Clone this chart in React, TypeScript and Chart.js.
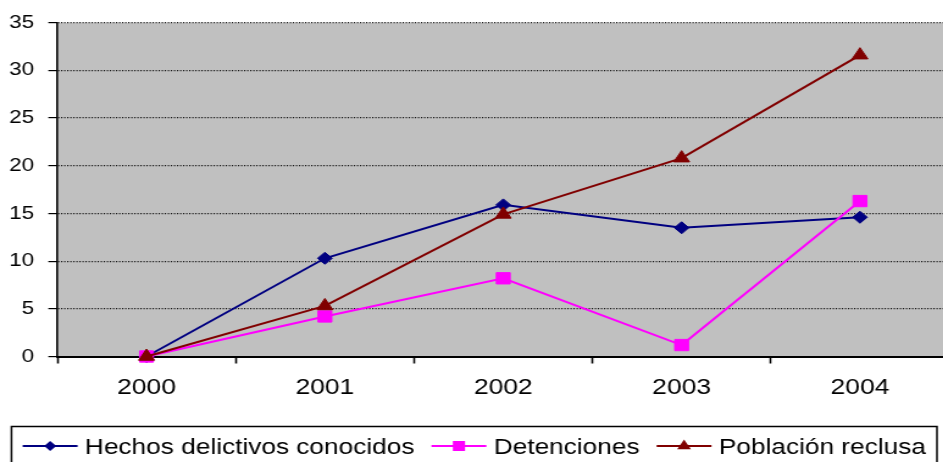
import React, { useEffect, useRef } from 'react';
import { Chart, registerables } from 'chart.js';

Chart.register(...registerables);

const years = ['2000', '2001', '2002', '2003', '2004'];
const hechos = [0, 10.3, 15.9, 13.5, 14.6];
const detenciones = [0, 4.2, 8.2, 1.2, 16.3];
const poblacion = [0, 5.3, 14.9, 20.8, 31.6];
const seriesNames = ['Hechos delictivos conocidos', 'Detenciones', 'Población reclusa'];
const seriesColors = ['#000080', '#FF00FF', '#800000'];
const seriesMarkers = ['rectRot', 'rect', 'triangle'];
const yMin = 0;
const yMax = 35;
const yStep = 5;

const SX = 1.22;
const FONT = '"Liberation Sans", Arial, Helvetica, sans-serif';

function drawMarker(ctx: CanvasRenderingContext2D, kind: string, x: number, y: number, color: string) {
  ctx.fillStyle = color;
  ctx.beginPath();
  if (kind === 'rectRot') {
    const r = 5;
    ctx.moveTo(x - r, y);
    ctx.lineTo(x, y - r);
    ctx.lineTo(x + r, y);
    ctx.lineTo(x, y + r);
  } else if (kind === 'rect') {
    const h = 5;
    ctx.rect(x - h, y - h, 2 * h, 2 * h);
  } else {
    const r = 6.5;
    ctx.moveTo(x, y - r);
    ctx.lineTo(x + r * 0.866, y + r / 2);
    ctx.lineTo(x - r * 0.866, y + r / 2);
  }
  ctx.closePath();
  ctx.fill();
}

const bgPlugin = {
  id: 'plotBg',
  beforeDraw(chart: any) {
    const { ctx, chartArea } = chart;
    ctx.save();
    ctx.fillStyle = '#C0C0C0';
    ctx.fillRect(chartArea.left, chartArea.top, chartArea.right - chartArea.left, chartArea.bottom - chartArea.top);
    ctx.restore();
  },
};

const boxLegendPlugin = {
  id: 'boxLegend',
  afterDraw(chart: any) {
    const ctx: CanvasRenderingContext2D = chart.ctx;
    ctx.save();
    ctx.strokeStyle = '#000';
    ctx.lineWidth = 1.5;
    ctx.strokeRect(9.4, 426.5, 758.6, 60);
    ctx.font = `21.5px ${FONT}`;
    ctx.textBaseline = 'alphabetic';
    ctx.textAlign = 'left';
    const yLine = 446;
    const yText = 454;
    let x = 18.6;
    for (let i = 0; i < seriesNames.length; i++) {
      ctx.strokeStyle = seriesColors[i];
      ctx.lineWidth = 2;
      ctx.beginPath();
      ctx.moveTo(x, yLine);
      ctx.lineTo(x + 45, yLine);
      ctx.stroke();
      drawMarker(ctx, seriesMarkers[i], x + 22.5, yLine, seriesColors[i]);
      x += 45 + 6;
      ctx.fillStyle = '#000';
      ctx.fillText(seriesNames[i], x, yText);
      x += ctx.measureText(seriesNames[i]).width + 14;
    }
    ctx.restore();
  },
};

export default function App() {
  const ref = useRef<HTMLCanvasElement | null>(null);

  useEffect(() => {
    if (!ref.current) return;
    Chart.defaults.font.family = FONT;
    Chart.defaults.color = '#000';
    const values = [hechos, detenciones, poblacion];
    const radii = [6, 8, 7.5];
    const orders = [2, 1, 0];
    const chart = new Chart(ref.current, {
      type: 'line',
      data: {
        labels: years,
        datasets: values.map((v, i) => ({
          label: seriesNames[i],
          data: v,
          borderColor: seriesColors[i],
          backgroundColor: seriesColors[i],
          borderWidth: 2,
          pointStyle: seriesMarkers[i] as any,
          pointRadius: radii[i],
          pointBorderWidth: 1,
          pointBorderColor: seriesColors[i],
          pointBackgroundColor: seriesColors[i],
          tension: 0,
          fill: false,
          clip: false as any,
          order: orders[i],
        })),
      },
      options: {
        animation: false,
        responsive: false,
        devicePixelRatio: 1,
        layout: { padding: { top: 20.5, right: 2.4, left: 0, bottom: 0 } },
        plugins: {
          legend: { display: false },
          tooltip: { enabled: false },
          title: { display: false },
        },
        scales: {
          x: {
            type: 'category',
            offset: true,
            grid: {
              offset: true,
              drawOnChartArea: false,
              drawTicks: true,
              tickLength: 7,
              tickColor: '#000',
              tickWidth: 1.6,
            },
            border: { display: true, color: '#000', width: 2 },
            ticks: {
              color: '#000',
              font: { size: 21.7, family: FONT },
              padding: 11.5,
              maxRotation: 0,
              autoSkip: false,
            },
            afterFit(scale: any) {
              scale.height = 105.5;
            },
          },
          y: {
            min: yMin,
            max: yMax,
            grid: {
              color: '#000',
              lineWidth: 1.2,
              drawTicks: true,
              tickLength: 7.4,
              tickColor: '#000',
              tickWidth: 1.2,
            },
            border: { display: true, color: '#000', width: 1.6, dash: [1, 1.5] },
            ticks: {
              stepSize: yStep,
              color: '#000',
              font: { size: 18.4, family: FONT },
              padding: 11.7,
            },
            afterFit(scale: any) {
              scale.width = 47;
            },
          },
        },
      },
      plugins: [bgPlugin, boxLegendPlugin],
    } as any);
    return () => chart.destroy();
  }, []);

  return (
    <div
      style={{
        position: 'fixed',
        left: 0,
        top: 0,
        width: 943,
        height: 462,
        overflow: 'hidden',
        background: '#fff',
      }}
    >
      <canvas
        ref={ref}
        width={787}
        height={462}
        style={{ transform: `scaleX(${SX})`, transformOrigin: '0 0', display: 'block' }}
      />
    </div>
  );
}
